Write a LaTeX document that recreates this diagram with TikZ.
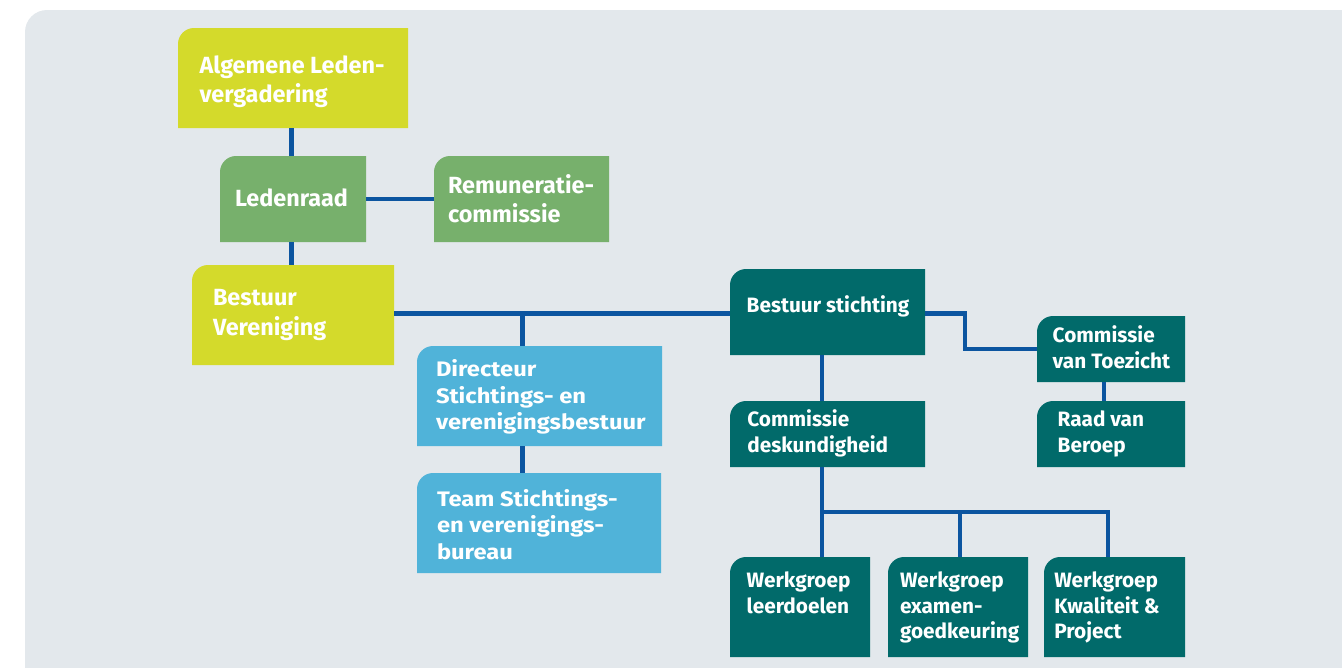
\documentclass[tikz,border=0pt]{standalone}
\usepackage{fontspec}
\usepackage{graphicx}
\setmainfont{Fira Sans}
\usetikzlibrary{calc}
\definecolor{bgc}{HTML}{E3E8EC}
\definecolor{ylw}{HTML}{D4DA2B}
\definecolor{grn}{HTML}{77B06C}
\definecolor{lblue}{HTML}{50B3D9}
\definecolor{tealc}{HTML}{016A6A}
\definecolor{lnc}{HTML}{0C55A0}
\newcommand\ml[1]{\begin{tabular}[t]{@{}l@{}}#1\end{tabular}}
\newcommand\wml[1]{\scalebox{1.13}[1]{\begin{tabular}[t]{@{}l@{}}#1\end{tabular}}}
\newcommand\obox[6]{%
  \node[boxn, minimum width=#4pt, minimum height=#5pt] (#1) at (#2,#3) {};
  \fill[#6] (#1.south west) -- ($(#1.north west)+(0pt,-16pt)$)
    .. controls +(0pt,8.8pt) and +(-8.8pt,0pt) .. ($(#1.north west)+(16pt,0pt)$)
    -- (#1.north east) -- (#1.south east) -- cycle;}
\tikzset{
  boxn/.style={inner sep=0pt, outer sep=0pt, anchor=north west, rectangle},
  txt/.style={inner sep=0pt, outer sep=0pt, anchor=base west, text=white,
    font=\bfseries\fontsize{20.8}{25.8}\selectfont},
  txtblue/.style={txt, font=\bfseries\fontsize{21}{26.6}\selectfont},
  txtbig/.style={txt, font=\bfseries\fontsize{23.4}{29.6}\selectfont},
  conn/.style={draw=lnc, line width=4.5pt, line join=miter},
}
\begin{document}
\begin{tikzpicture}[x=1pt,y=-1pt]
\useasboundingbox (0,0) rectangle (1342,667);
\clip (0,0) rectangle (1342,667);
\fill[bgc, rounded corners=22pt] (25,10) rectangle (1420,740);
% coordinates
\coordinate (xa) at (291.5,0);
\coordinate (xb) at (522.3,0);
\coordinate (xc) at (822,0);
\coordinate (xd) at (1104,0);
\coordinate (xe) at (960,0);
\coordinate (xf) at (1108,0);
\coordinate (xg) at (965,0);
\coordinate (ym) at (0,313.5);
\coordinate (bus) at (0,512);
% boxes
\obox{alv}{178}{28}{230}{100}{ylw}
\obox{ldr}{220}{156}{146}{86}{grn}
\obox{rem}{434}{156}{175}{86}{grn}
\obox{bv}{192}{265}{202}{100}{ylw}
\obox{dir}{417}{346}{245}{100}{lblue}
\obox{team}{417}{473}{244}{100}{lblue}
\obox{bs}{730}{269}{195}{86}{tealc}
\obox{cvt}{1037}{316}{148}{66}{tealc}
\obox{rvb}{1037}{401}{148}{66}{tealc}
\obox{cd}{730}{401}{195}{66}{tealc}
\obox{wa}{730}{557}{140}{100}{tealc}
\obox{wb}{888}{557}{140}{100}{tealc}
\obox{wc}{1044}{557}{141}{100}{tealc}
% connectors
\draw[conn] (alv.south -| xa) -- (ldr.north -| xa);
\draw[conn] (ldr.south -| xa) -- (bv.north -| xa);
\draw[conn] (ldr.east) -- (rem.west);
\draw[conn] (bv.east |- ym) -- (bs.west |- ym);
\draw[conn] (xb |- ym) -- (dir.north -| xb);
\draw[conn] (dir.south -| xb) -- (team.north -| xb);
\draw[conn] (bs.east |- ym) -| (xg |- cvt.west) -- (cvt.west);
\draw[conn] (cvt.south -| xd) -- (rvb.north -| xd);
\draw[conn] (bs.south -| xc) -- (cd.north -| xc);
\draw[conn] (cd.south -| xc) -- (wa.north -| xc);
\draw[conn] (xc |- bus) -| (wc.north -| xf);
\draw[conn] (xe |- bus) -- (wb.north -| xe);
% texts
\node[txtbig] (alvt) at (199.5,73.3) {\ml{Algemene Leden-\\vergadering}};
\node[txtbig] (ldrt) at (235,206.7) {Ledenraad};
\node[txtbig] (remt) at (448,193.3) {\ml{Remuneratie-\\commissie}};
\node[txtbig] (bvt) at (213,305.7) {\ml{Bestuur\\Vereniging}};
\node[txtblue] (dirt) at (436,376.7) {\wml{Directeur\\Stichtings- en\\verenigingsbestuur}};
\node[txtblue] (teamt) at (437,506) {\wml{Team Stichtings-\\en verenigings-\\bureau}};
\node[txt] (bst) at (746.7,312.7) {Bestuur stichting};
\node[txt] (cvtt) at (1052.7,342.7) {\ml{Commissie\\van Toezicht}};
\node[txt] (rvbt) at (1057.7,426.7) {\ml{Raad van\\Beroep}};
\node[txt] (cdt) at (747.3,426.7) {\ml{Commissie\\deskundigheid}};
\node[txt] (wat) at (746.7,587.3) {\ml{Werkgroep\\leerdoelen}};
\node[txt] (wbt) at (900,587.3) {\ml{Werkgroep\\examen-\\goedkeuring}};
\node[txt] (wct) at (1054.3,587.3) {\ml{Werkgroep\\Kwaliteit \&\\Project}};
\end{tikzpicture}
\end{document}
